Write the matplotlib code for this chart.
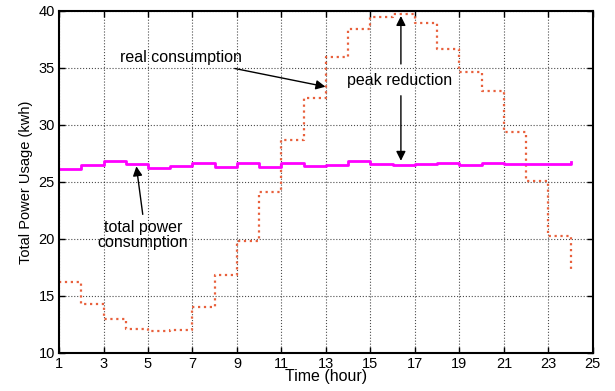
import matplotlib.pyplot as plt
import numpy as np

plt.rcParams['font.family'] = ['Liberation Sans', 'DejaVu Sans']

# hourly values, hour 1..24 (stairs style)
hours = list(range(1, 25))
real_use = [16.2, 14.3, 13.0, 12.1, 11.9, 12.0, 14.0, 16.8, 19.8, 24.1, 28.7, 32.4,
            36.0, 38.4, 39.5, 39.7, 38.9, 36.7, 34.6, 33.0, 29.4, 25.1, 20.2, 17.3]
total_use = [26.1, 26.5, 26.8, 26.6, 26.2, 26.4, 26.65, 26.3, 26.65, 26.3, 26.65, 26.4,
             26.5, 26.8, 26.6, 26.45, 26.6, 26.65, 26.5, 26.65, 26.6, 26.6, 26.6, 26.75]

fig = plt.figure(figsize=(6.15, 3.91), dpi=100)
ax = fig.add_axes([0.096, 0.098, 0.868, 0.874])

ax.plot(hours, real_use, drawstyle='steps-post', linestyle=':', color='#e8603c', linewidth=1.6)
ax.plot(hours, total_use, drawstyle='steps-post', linestyle='-', color='#ff00ff', linewidth=2)

ax.set_xlim(1, 25)
ax.set_ylim(10, 40)
ax.set_xticks(range(1, 26, 2))
ax.set_yticks(range(10, 41, 5))
ax.grid(True, linestyle=':', color='black', linewidth=0.8, alpha=0.7)
ax.tick_params(direction='in', top=True, right=True, labelsize=10.5, length=4, width=1, pad=3)
for s in ax.spines.values():
    s.set_linewidth(1.5)

ax.set_xlabel('Time (hour)', fontsize=11.5, labelpad=-1)
ax.set_ylabel('Total Power Usage (kwh)', fontsize=10.5, labelpad=4)

arrow = dict(arrowstyle='-|>', color='black', lw=1, mutation_scale=14)
ax.annotate('real consumption', xy=(13.1, 33.3), xytext=(3.74, 35.9),
            fontsize=11.5, va='center', ha='left', arrowprops=arrow)
ax.text(16.33, 33.9, 'peak reduction', fontsize=11.5, ha='center', va='center')
ax.annotate('', xy=(16.37, 39.8), xytext=(16.37, 35.1), arrowprops=arrow)
ax.annotate('', xy=(16.37, 26.6), xytext=(16.37, 32.8), arrowprops=arrow)
ax.annotate('', xy=(4.46, 26.6), xytext=(4.78, 21.9), arrowprops=arrow)
ax.text(4.78, 20.3, 'total power\nconsumption', fontsize=11.5, ha='center', va='center',
        linespacing=1.0)

plt.savefig('out.png', dpi=100)
